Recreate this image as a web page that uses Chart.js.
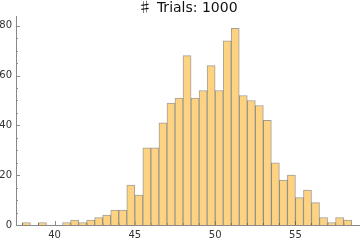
<!DOCTYPE html>
<html>
<head>
<meta charset="utf-8">
<script src="https://cdn.jsdelivr.net/npm/chart.js@4"></script>
<style>
  @font-face {
    font-family: 'SharpSign';
    src: local('Noto Sans CJK JP'), local('NotoSansCJKjp-Regular'), local('Noto Sans CJK JP Regular');
    unicode-range: U+266F;
  }
  body { margin: 0; background: #fff; }
  #wrap { width: 360px; height: 242px; }
</style>
</head>
<body>
<div id="wrap"><canvas id="myChart"></canvas></div>
<script>
// bins are 0.5 wide, listed by their left edge
const binStarts = [38, 38.5, 39, 39.5, 40, 40.5, 41, 41.5, 42, 42.5, 43, 43.5, 44, 44.5,
    45, 45.5, 46, 46.5, 47, 47.5, 48, 48.5, 49, 49.5, 50, 50.5, 51, 51.5, 52, 52.5,
    53, 53.5, 54, 54.5, 55, 55.5, 56, 56.5, 57, 57.5, 58]
const counts = [1, 0, 1, 0, 0, 1, 2, 1, 2, 3, 4, 6, 6, 16,
    12, 31, 31, 41, 49, 51, 68, 51, 54, 64, 54, 74, 79, 52, 50, 48,
    42, 25, 18, 20, 11, 14, 9, 3, 1, 3, 2]
const binWidth = 0.5

const xTicks = [40, 45, 50, 55]
const yTicks = [0, 20, 40, 60, 80]
const xMinor = [38, 39, 41, 42, 43, 44, 46, 47, 48, 49, 51, 52, 53, 54, 56, 57, 58, 59]
const yMinor = [5, 10, 15, 25, 30, 35, 45, 50, 55, 65, 70, 75]

const title = '\u266F Trials: 1000'

const points = []
binStarts.forEach(function (b, i) {
    if (counts[i] > 0) points.push({ x: b + binWidth / 2, y: counts[i] })
})

// Mathematica style ticks that point into the plot
const innerTicks = {
    id: 'innerTicks',
    beforeDatasetsDraw(chart) {
        const ctx = chart.ctx
        const x = chart.scales.x
        const y = chart.scales.y
        const area = chart.chartArea
        ctx.save()
        ctx.strokeStyle = '#8a8a8a'
        ctx.lineWidth = 1
        function xt(v, len) {
            const px = Math.round(x.getPixelForValue(v)) + 0.5
            ctx.beginPath(); ctx.moveTo(px, area.bottom); ctx.lineTo(px, area.bottom - len); ctx.stroke()
        }
        function yt(v, len) {
            const py = Math.round(y.getPixelForValue(v)) + 0.5
            ctx.beginPath(); ctx.moveTo(area.left, py); ctx.lineTo(area.left + len, py); ctx.stroke()
        }
        xTicks.forEach(v => xt(v, 4))
        xMinor.forEach(v => xt(v, 2))
        yTicks.forEach(v => yt(v, 4))
        yMinor.forEach(v => yt(v, 2))
        ctx.restore()
    }
}

function draw() {
    new Chart(document.getElementById('myChart'), {
        type: 'bar',
        data: {
            datasets: [{
                data: points,
                backgroundColor: 'rgb(253, 210, 128)',
                borderColor: 'rgba(85, 80, 70, 0.55)',
                borderWidth: { left: 1, top: 1, right: 1, bottom: 0 },
                barPercentage: 1,
                categoryPercentage: 1
            }]
        },
        options: {
            responsive: true,
            maintainAspectRatio: false,
            animation: false,
            layout: { padding: 0 },
            plugins: {
                legend: { display: false },
                tooltip: { enabled: false },
                title: {
                    display: true,
                    text: title,
                    fullSize: false,
                    color: '#111',
                    font: { family: "SharpSign, 'DejaVu Sans'", size: 14, weight: 'normal', lineHeight: 1.2 },
                    padding: { top: 0, bottom: 0 }
                }
            },
            scales: {
                x: {
                    type: 'linear',
                    min: 37.6,
                    max: 59.02,
                    offset: false,
                    grid: { display: false, drawTicks: false },
                    border: { display: true, color: '#8a8a8a', width: 1 },
                    afterBuildTicks(s) { s.ticks = xTicks.map(v => ({ value: v })) },
                    afterFit(s) { s.height = 17 },
                    ticks: {
                        color: '#333',
                        padding: 4,
                        maxRotation: 0,
                        font: { family: 'DejaVu Sans', size: 10 }
                    }
                },
                y: {
                    min: 0,
                    max: 83.6,
                    grid: { display: false, drawTicks: false },
                    border: { display: true, color: '#8a8a8a', width: 1 },
                    afterBuildTicks(s) { s.ticks = yTicks.map(v => ({ value: v })) },
                    afterFit(s) { s.width = 16 },
                    ticks: {
                        color: '#333',
                        padding: 4,
                        font: { family: 'DejaVu Sans', size: 10 }
                    }
                }
            }
        },
        plugins: [innerTicks]
    })
}

// make sure the local font for the sharp sign is loaded before drawing
document.fonts.load("14px SharpSign", '\u266F').then(draw, draw)
</script>
</body>
</html>
